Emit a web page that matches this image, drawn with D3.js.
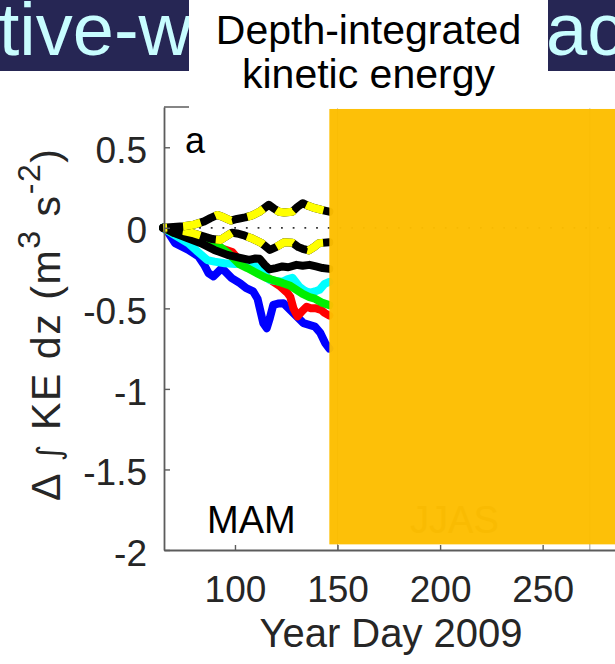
<!DOCTYPE html>
<html>
<head>
<meta charset="utf-8">
<script src="https://cdn.jsdelivr.net/npm/d3@7"></script>
<style>
  html, body { margin: 0; padding: 0; background: #fff; }
  svg { display: block; }
  text { font-family: "Liberation Sans", Arial, Helvetica, sans-serif; }
</style>
</head>
<body>
<script>
// Change in depth-integrated kinetic energy, spring (MAM) 2009, per float/profile.
// Each series: [year day, Δ∫KE dz (m^3 s^-2)]
const seriesBlue = [[65,0],[67,-0.02],[70.8,-0.095],[77.3,-0.137],[82.2,-0.178],[85,-0.23],[87.1,-0.281],[89.5,-0.302],[93.6,-0.25],[98.4,-0.312],[102.4,-0.343],[105.5,-0.375],[108.9,-0.395],[111,-0.44],[113.8,-0.592],[115.5,-0.623],[117,-0.56],[118.7,-0.478],[121,-0.47],[123.6,-0.468],[128.5,-0.53],[133.4,-0.592],[139,-0.613],[141.5,-0.65],[143.9,-0.714],[146,-0.75]];
const seriesRed = [[65,0],[70,-0.03],[76,-0.05],[80,-0.065],[85,-0.08],[90,-0.11],[94,-0.13],[98.7,-0.15],[102,-0.2],[106,-0.24],[111.9,-0.25],[115,-0.3],[118,-0.33],[121.7,-0.36],[125.6,-0.404],[127,-0.43],[128.5,-0.5],[130.5,-0.55],[132.5,-0.52],[134.9,-0.49],[137,-0.5],[139.7,-0.5],[142,-0.51],[143.7,-0.528],[146,-0.545]];
const seriesCyan = [[65,0],[70,-0.04],[77.7,-0.1],[82,-0.15],[86.5,-0.2],[90,-0.21],[95,-0.22],[100,-0.225],[104.6,-0.22],[108,-0.23],[111.9,-0.25],[114.5,-0.29],[116.8,-0.323],[120,-0.33],[123.1,-0.335],[125.5,-0.32],[128,-0.31],[131.4,-0.366],[134,-0.39],[136.3,-0.404],[139,-0.395],[141.2,-0.385],[143.7,-0.348],[146,-0.335]];
const seriesGreen = [[65,0],[70,-0.03],[76,-0.05],[80,-0.065],[85,-0.08],[90,-0.11],[93.3,-0.124],[97,-0.16],[102.1,-0.225],[106,-0.25],[111.9,-0.29],[115,-0.31],[118.2,-0.323],[123.1,-0.342],[127,-0.36],[130,-0.385],[133,-0.41],[136.3,-0.43],[139,-0.44],[142.7,-0.466],[146,-0.48]];
const seriesBlack = [[65,0],[67,-0.01],[70.4,-0.033],[76.7,-0.064],[83.4,-0.095],[89.9,-0.137],[96.3,-0.168],[103,-0.188],[107,-0.199],[110,-0.19],[112,-0.192],[114.5,-0.23],[116.8,-0.258],[120,-0.25],[123.1,-0.24],[126,-0.245],[130,-0.23],[133,-0.235],[136.3,-0.23],[139.5,-0.24],[142.7,-0.25],[146,-0.255]];
const seriesDashUpper = [[65,0],[70,0.005],[75,0.01],[80,0.02],[85,0.04],[88,0.06],[91.5,0.08],[94.5,0.065],[98,0.045],[101,0.055],[105,0.065],[108,0.075],[112,0.1],[116.5,0.143],[119,0.12],[121.4,0.1],[124,0.095],[128,0.1],[130.5,0.13],[133,0.153],[136,0.135],[139,0.122],[143.7,0.107],[146,0.1]];
const seriesDashLower = [[65,0],[70,-0.01],[75,-0.02],[80,-0.035],[85,-0.055],[89,-0.07],[93,-0.075],[96,-0.05],[98.5,-0.03],[101,-0.035],[104,-0.045],[108,-0.064],[113,-0.095],[117,-0.137],[120,-0.12],[124,-0.09],[128,-0.093],[131,-0.12],[133,-0.13],[136,-0.14],[138.5,-0.12],[141,-0.095],[146,-0.09]];

const yTicks = [0.5, 0, -0.5, -1, -1.5, -2];
const yTickLabels = ["0.5", "0", "-0.5", "-1", "-1.5", "-2"];
const xTicks = [100, 150, 200, 250];
const seasonEdges = [150, 273];
const seasonLabels = [["MAM", 108], ["JJAS", 207]];
const overlayDays = [146, 300];
const overlayValues = [-1.965, 0.738];

const W = 615, H = 664;
const svg = d3.select("body").append("svg").attr("width", W).attr("height", H);

const x = d3.scaleLinear().domain([65.4, 290]).range([164, 624.7]);
const y = d3.scaleLinear().domain([-2, 0.75]).range([550, 107]);

const axisColor = "#5c5c5c";
const textColor = "#262626";

// frame (top edge; right edge lies off-page)
svg.append("line").attr("x1", x(65.4)).attr("x2", W).attr("y1", y(0.75)).attr("y2", y(0.75))
  .attr("stroke", axisColor).attr("stroke-width", 1.6);

// season boundaries
svg.selectAll(".season").data(seasonEdges).join("line")
  .attr("x1", d => x(d)).attr("x2", d => x(d)).attr("y1", y(-2)).attr("y2", y(0.75))
  .attr("stroke", "#9a9a9a").attr("stroke-width", 1);

// zero reference
svg.append("line").attr("x1", x(65.4)).attr("x2", W).attr("y1", y(0)).attr("y2", y(0))
  .attr("stroke", "#333").attr("stroke-width", 1.8).attr("stroke-dasharray", "1.8,9.9");

const line = d3.line().x(d => x(d[0])).y(d => y(d[1]));
const lw = 8;
function draw(data, color, dash) {
  const p = svg.append("path").datum(data).attr("d", line)
    .attr("fill", "none").attr("stroke", color).attr("stroke-width", lw)
    .attr("stroke-linejoin", "round");
  if (dash) {
    p.attr("stroke-dasharray", dash).attr("stroke-dashoffset", 14).attr("stroke-linecap", "butt");
  } else {
    p.attr("stroke-linecap", "round");
  }
}
draw(seriesBlue, "#0000ff");
draw(seriesRed, "#ff0000");
draw(seriesCyan, "#00ffff");
draw(seriesGreen, "#00ee00");
draw(seriesBlack, "#000000");
draw(seriesDashLower, "#000000");
draw(seriesDashLower, "#ffff00", "18,16");
draw(seriesDashUpper, "#000000");
draw(seriesDashUpper, "#ffff00", "18,16");

// y axis
const yAxis = svg.append("g").attr("transform", `translate(${x(65.4)},0)`)
  .call(d3.axisLeft(y).tickValues(yTicks).tickFormat((d, i) => yTickLabels[i])
    .tickSize(-6).tickSizeOuter(0).tickPadding(17));
// x axis
const xAxis = svg.append("g").attr("transform", `translate(0,${y(-2)})`)
  .call(d3.axisBottom(x).tickValues(xTicks).tickFormat(d3.format("d"))
    .tickSize(-5).tickSizeOuter(0).tickPadding(25.4));
[yAxis, xAxis].forEach(g => {
  g.select(".domain").attr("stroke", axisColor).attr("stroke-width", 1.8);
  g.selectAll(".tick line").attr("stroke", axisColor).attr("stroke-width", 1.4);
  g.selectAll(".tick text").attr("fill", textColor).style("font-size", "37px")
    .style("font-family", "'Liberation Sans', Arial, sans-serif");
});
yAxis.selectAll(".tick text").attr("dy", "0.41em");

// panel letter
svg.append("text").attr("x", x(65.4) + 21).attr("y", y(0.5) + 6)
  .attr("fill", "#000").style("font-size", "36px").text("a");

// season labels
svg.append("text").attr("x", x(seasonLabels[0][1])).attr("y", y(-1.965) - 11)
  .attr("text-anchor", "middle").attr("fill", "#000").style("font-size", "38px")
  .text(seasonLabels[0][0]);

// overlay panel hiding the summer season
svg.append("rect")
  .attr("x", x(overlayDays[0])).attr("y", y(overlayValues[1]))
  .attr("width", W - x(overlayDays[0])).attr("height", y(overlayValues[0]) - y(overlayValues[1]))
  .attr("fill", "#fdbe00").attr("fill-opacity", 0.97);
svg.append("text").attr("x", x(seasonLabels[1][1])).attr("y", y(-1.965) - 11)
  .attr("text-anchor", "middle").attr("fill", "#f9bb02").style("font-size", "38px")
  .text(seasonLabels[1][0]);

// axis titles
svg.append("text").attr("x", 391).attr("y", 647).attr("text-anchor", "middle")
  .attr("fill", textColor).style("font-size", "40px").text("Year Day 2009");

const yt = svg.append("text").attr("transform", "translate(60,325) rotate(-90)")
  .attr("text-anchor", "middle").attr("fill", textColor).style("font-size", "41px")
  .attr("textLength", 352).attr("lengthAdjust", "spacing");
yt.append("tspan").text("Δ ");
yt.append("tspan").style("font-size", "32px").style("font-family", "'DejaVu Sans', sans-serif").text("∫");
yt.append("tspan").text(" KE dz (m");
yt.append("tspan").attr("dy", -20).style("font-size", "32px").text("3");
yt.append("tspan").attr("dy", 20).text(" s");
yt.append("tspan").attr("dy", -20).style("font-size", "32px").text("-2");
yt.append("tspan").attr("dy", 20).text(")");

// slide banner behind the title
svg.append("rect").attr("x", 0).attr("y", 0).attr("width", W).attr("height", 71).attr("fill", "#262654");
svg.append("text").attr("x", 192).attr("y", 55).attr("text-anchor", "end")
  .attr("fill", "#c8fdff").style("font-size", "74px").text("tive-w");
svg.append("text").attr("x", 546).attr("y", 55).attr("text-anchor", "start")
  .attr("fill", "#c8fdff").style("font-size", "74px").text("ac");

// title box
svg.append("rect").attr("x", 189).attr("y", 0).attr("width", 359).attr("height", 108.5).attr("fill", "#fff");
svg.append("rect").attr("x", 548).attr("y", 71).attr("width", W - 548).attr("height", 37.5).attr("fill", "#fff");
svg.append("text").attr("x", 368.5).attr("y", 44).attr("text-anchor", "middle")
  .attr("fill", "#000").style("font-size", "41px").text("Depth-integrated");
svg.append("text").attr("x", 368.5).attr("y", 88).attr("text-anchor", "middle")
  .attr("fill", "#000").style("font-size", "41px").text("kinetic energy");
</script>
</body>
</html>
